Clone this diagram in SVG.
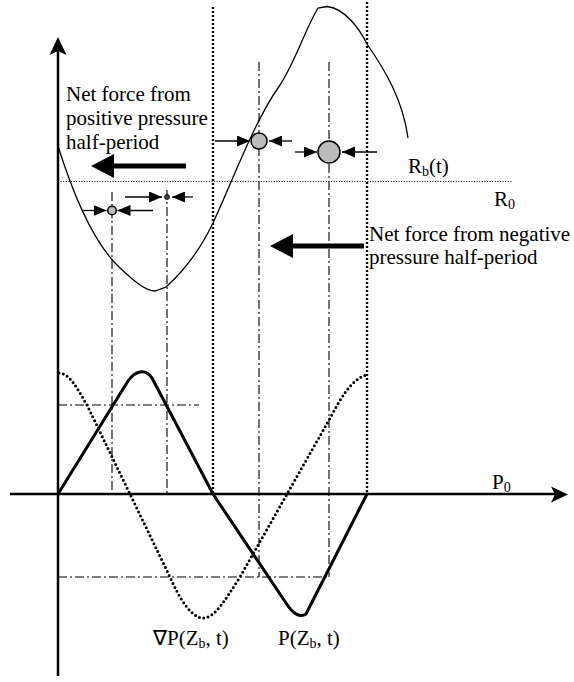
<svg xmlns="http://www.w3.org/2000/svg" width="574" height="682" viewBox="0 0 574 682">
<style>
text{font-family:"Liberation Serif","Times New Roman",serif;font-size:21px;fill:#000}
.sub{font-size:14px}
.axis{stroke:#000;stroke-width:2.5;fill:none}
.dot{stroke:#000;stroke-width:2.4;stroke-dasharray:2 2;fill:none}
.fine{stroke:#000;stroke-width:1;stroke-dasharray:1 1.6;fill:none}
.dd{stroke:#000;stroke-width:1.1;stroke-dasharray:9 3 2 3;fill:none}
.thin{stroke:#000;stroke-width:1.3;fill:none}
.thick{stroke:#000;stroke-width:3;fill:none;stroke-linejoin:round;stroke-linecap:round}
.dotc{stroke:#000;stroke-width:3;fill:none;stroke-dasharray:0 4.4;stroke-linecap:round}
.bub{fill:#bcbcbc;stroke:#000;stroke-width:1.5}
.sm{stroke:#000;stroke-width:1.3;fill:none;marker-end:url(#ah)}
</style>
<defs>
<marker id="ah" markerWidth="13" markerHeight="11" refX="13" refY="5.5" orient="auto" markerUnits="userSpaceOnUse">
<path d="M0,0 L13,5.5 L0,11 Z" fill="#000"/>
</marker>
</defs>
<g id="axes">
<line class="axis" x1="58" y1="676" x2="58" y2="48"/>
<path d="M58,37 L66.5,55 L58,51 L49.5,55 Z" fill="#000"/>
<line class="axis" x1="10" y1="494" x2="556" y2="494"/>
<path d="M568,494.5 L551,486.5 L555,494.5 L551,502.5 Z" fill="#000"/>
</g>
<g id="guides">
<line class="dot" x1="213" y1="7" x2="213" y2="494"/>
<line class="dot" x1="367" y1="2" x2="367" y2="494"/>
<line class="fine" x1="58" y1="181.5" x2="513" y2="181.5"/>
<line class="dd" x1="112" y1="192" x2="112" y2="494"/>
<line class="dd" x1="167" y1="190" x2="167" y2="494"/>
<line class="dd" x1="259" y1="62" x2="259" y2="577"/>
<line class="dd" x1="329" y1="62" x2="329" y2="577"/>
<line class="dd" x1="58" y1="405" x2="199" y2="405"/>
<line class="dd" x1="58" y1="577" x2="329" y2="577"/>
</g>
<g id="radius-curve">
<path class="thin" d="M58,146 C68,178 88,238 120,268 C135,282 146,291 155,291 L166,287 C185,270 200,250 213,223 C235,175 255,120 280,85 C295,62 305,30 318,8 L327,6.5 C345,8 360,30 367,44 C385,70 403,100 408,138"/>
</g>
<g id="pressure-curve">
<path class="thick" d="M58,494 L128,381 C135,371 145,368 152,378 L213,494 L286,603 C293,614 300,618 306,614 L367,494"/>
</g>
<g id="gradient-curve">
<path class="dotc" d="M59,373 C70,373 78,390 87,405 L170,577 C180,600 192,618 203,618 C215,618 225,600 240,577 L329,420 C340,400 350,380 366,375"/>
</g>
<g id="bubble1">
<circle class="bub" cx="112" cy="210.5" r="4.3"/>
<line class="sm" x1="83" y1="210.5" x2="106.5" y2="210.5"/>
<line class="sm" x1="153" y1="210.5" x2="117.5" y2="210.5"/>
</g>
<g id="bubble2">
<circle cx="167" cy="197" r="2.4" fill="#444" stroke="#000" stroke-width="1"/>
<line class="sm" x1="125" y1="197" x2="162" y2="197"/>
<line class="sm" x1="193" y1="197" x2="172" y2="197"/>
</g>
<g id="bubble3">
<circle class="bub" cx="259" cy="141" r="8"/>
<line class="sm" x1="215" y1="141" x2="250" y2="141"/>
<line class="sm" x1="292" y1="141" x2="269" y2="141"/>
</g>
<g id="bubble4">
<circle class="bub" cx="329" cy="152" r="11"/>
<line class="sm" x1="295" y1="152" x2="317" y2="152"/>
<line class="sm" x1="377" y1="152" x2="342" y2="152"/>
</g>
<g id="force-positive">
<line x1="108" y1="166" x2="186" y2="166" stroke="#000" stroke-width="5"/>
<path d="M91,166 L114,154 L114,178 Z" fill="#000"/>
<text x="66" y="101">Net force from</text>
<text x="66" y="125">positive pressure</text>
<text x="66" y="149">half-period</text>
</g>
<g id="force-negative">
<line x1="287" y1="246" x2="364" y2="246" stroke="#000" stroke-width="5"/>
<path d="M270,246 L293,234 L293,258 Z" fill="#000"/>
<text x="369" y="241">Net force from negative</text>
<text x="369" y="264">pressure half-period</text>
</g>
<g id="labels">
<text x="408" y="173">R<tspan class="sub" dy="3">b</tspan><tspan dy="-3">(t)</tspan></text>
<text x="494" y="206">R<tspan class="sub" dy="3">0</tspan></text>
<text x="492" y="489">P<tspan class="sub" dy="3">0</tspan></text>
<text x="153" y="645">∇P(Z<tspan class="sub" dy="3">b</tspan><tspan dy="-3">, t)</tspan></text>
<text x="278" y="645">P(Z<tspan class="sub" dy="3">b</tspan><tspan dy="-3">, t)</tspan></text>
</g>
</svg>
